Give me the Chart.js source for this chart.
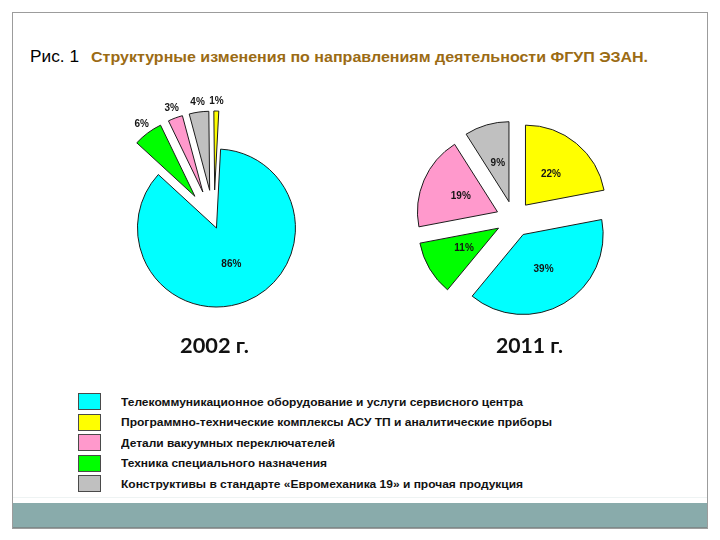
<!DOCTYPE html>
<html><head><meta charset="utf-8">
<script src="https://cdn.jsdelivr.net/npm/chart.js@4"></script>
<style>
html,body{margin:0;padding:0;background:#fff;}
body{width:720px;height:540px;position:relative;overflow:hidden;font-family:"Liberation Sans",Arial,sans-serif;}
.abs{position:absolute;white-space:nowrap;}
#frame{left:12px;top:12px;width:694px;height:515px;border:1px solid #9c9c9c;}
#band{left:13px;top:503px;width:694px;height:24px;background:#89abab;border-bottom:1px solid #7d8b8b;}
#faint{left:13px;top:497px;width:694px;height:1px;background:#eef3f3;}
#fig{left:30px;top:46px;font-size:17px;line-height:22px;color:#000;}
#title{left:91px;top:48px;font-size:14px;line-height:18px;font-weight:bold;color:#9b6b14;}
.year{position:absolute;white-space:nowrap;font-family:Lato,sans-serif;font-weight:bold;font-size:21px;line-height:24px;color:#111;top:333px;}
.sw{position:absolute;left:78px;width:21px;height:15px;border:1px solid #4a4a4a;}
.lt{position:absolute;white-space:nowrap;left:121px;font-size:11.5px;font-weight:bold;line-height:14px;color:#111;}
canvas{position:absolute;}
</style></head>
<body>
<div id="frame" class="abs"></div>
<div id="faint" class="abs"></div>
<div id="band" class="abs"></div>
<div id="fig" class="abs" data-w="49">Рис. 1</div>
<div id="title" class="abs" data-w="557">Структурные изменения по направлениям деятельности ФГУП ЭЗАН.</div>
<canvas id="c2002" width="300" height="300" style="left:64px;top:72px;"></canvas>
<canvas id="c2011" width="240" height="240" style="left:394px;top:99px;"></canvas>
<div id="y2002" class="year" style="left:180px;" data-w="69">2002 г.</div>
<div id="y2011" class="year" style="left:496px;" data-w="67">2011 г.</div>
<div id="legend"></div>
<script>
// ---- data ----
const categories = [
  "Телекоммуникационное оборудование и услуги сервисного центра",
  "Программно-технические комплексы АСУ ТП и аналитические приборы",
  "Детали вакуумных переключателей",
  "Техника специального назначения",
  "Конструктивы в стандарте «Евромеханика 19» и прочая продукция"
];
const years = ["2002 г.", "2011 г."];
const values2002 = [86, 1, 3, 6, 4];
const values2011 = [39, 22, 19, 11, 9];
// slice drawing order (clockwise from top), as category indices
const order2002 = [0, 3, 2, 4, 1];
const order2011 = [1, 0, 3, 2, 4];

// ---- style ----
const colors = ['#00FFFF', '#FFFF00', '#FF99CC', '#00FF00', '#C0C0C0'];

function makeExplode(cfg) {
  return {
    id: 'explode',
    beforeDatasetDraw(chart, args) {
      const ctx = chart.ctx;
      const ds = chart.data.datasets[args.index];
      args.meta.data.forEach((arc, i) => {
        const t = cfg.dist(ds.data[i]);
        const mid = (arc.startAngle + arc.endAngle) / 2;
        ctx.save();
        ctx.translate(Math.cos(mid) * t, Math.sin(mid) * t);
        arc.draw(ctx);
        ctx.restore();
      });
      return false;
    },
    afterDatasetsDraw(chart) {
      const meta = chart.getDatasetMeta(0);
      const ds = chart.data.datasets[0];
      const ctx = chart.ctx;
      ctx.save();
      ctx.font = 'bold 10px "Liberation Sans", Arial, sans-serif';
      ctx.fillStyle = '#151515';
      ctx.textAlign = 'center';
      ctx.textBaseline = 'middle';
      meta.data.forEach((arc, i) => {
        const v = ds.data[i];
        const mid = (arc.startAngle + arc.endAngle) / 2;
        const d = cfg.dist(v) + cfg.labelFactor(v) * arc.outerRadius;
        ctx.fillText(v + '%', arc.x + Math.cos(mid) * d, arc.y + Math.sin(mid) * d);
      });
      ctx.restore();
    }
  };
}

function makePie(id, values, order, radius, rotation, cfg) {
  return new Chart(document.getElementById(id), {
    type: 'pie',
    data: {
      labels: order.map(i => categories[i]),
      datasets: [{
        data: order.map(i => values[i]),
        backgroundColor: order.map(i => colors[i]),
        borderColor: '#1c1c1c',
        borderWidth: 1,
        radius: radius,
        rotation: rotation
      }]
    },
    options: {
      responsive: false,
      animation: false,
      devicePixelRatio: 1,
      events: [],
      radius: radius,
      rotation: rotation,
      layout: { padding: 0 },
      plugins: { legend: { display: false }, tooltip: { enabled: false }, title: { display: false } }
    },
    plugins: [makeExplode(cfg)]
  });
}

makePie('c2002', values2002, order2002, 79, 3, {
  dist: v => v < 10 ? 32 : 6.5,
  labelFactor: v => v < 10 ? 1.13 : 0.5
});
makePie('c2011', values2011, order2011, 80, 0, {
  dist: v => 18,
  labelFactor: v => 0.5
});

// legend
const legendWidths = [402, 431, 214, 206, 402];
const lg = document.getElementById('legend');
categories.forEach((c, i) => {
  const top = 393 + i * 20.6;
  const sw = document.createElement('div');
  sw.className = 'sw';
  sw.style.top = top + 'px';
  sw.style.background = colors[i];
  lg.appendChild(sw);
  const t = document.createElement('div');
  t.className = 'lt';
  t.style.top = (top + 1.5) + 'px';
  t.textContent = c;
  t.dataset.w = legendWidths[i];
  lg.appendChild(t);
});
document.getElementById('y2002').textContent = years[0];
document.getElementById('y2011').textContent = years[1];

function fitAll() {
  document.querySelectorAll('[data-w]').forEach(el => {
    el.style.transform = '';
    const r = el.getBoundingClientRect().width;
    const w = parseFloat(el.dataset.w);
    if (r > 0) {
      el.style.transformOrigin = 'left center';
      el.style.transform = 'scaleX(' + (w / r).toFixed(4) + ')';
    }
  });
}
fitAll();
if (document.fonts && document.fonts.ready) document.fonts.ready.then(fitAll);
</script>
</body></html>
